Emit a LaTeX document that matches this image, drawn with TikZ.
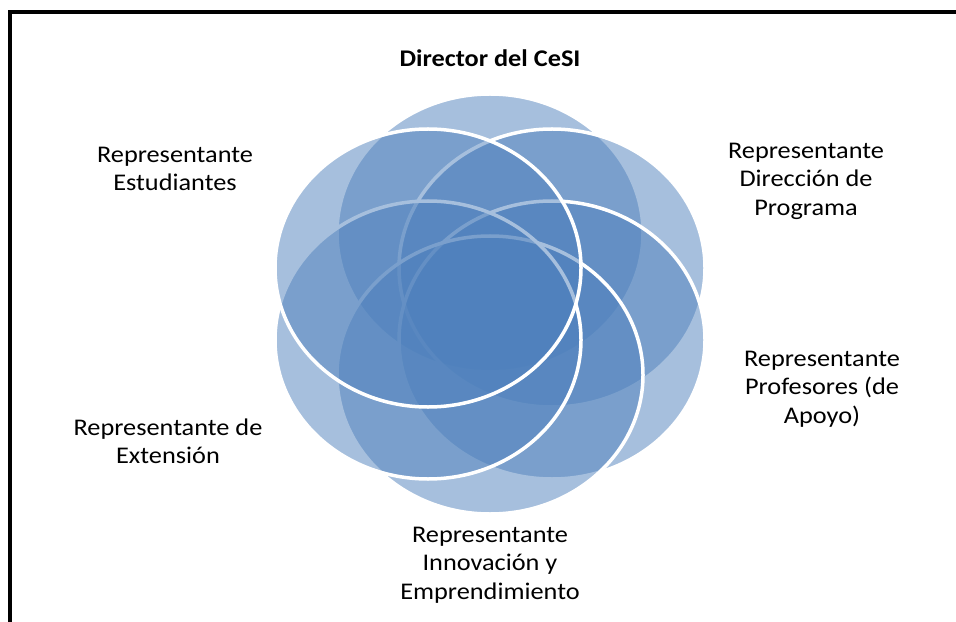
\documentclass[tikz,border=0pt]{standalone}
\usepackage{fontspec}
\setmainfont{Carlito}[FakeStretch=1.1]
\usetikzlibrary{shapes.geometric}
\definecolor{ofblue}{HTML}{4F81BD}
\begin{document}
\begin{tikzpicture}[x=1bp,y=-1bp,
  petal/.style={ellipse, inner sep=0pt, minimum width=306bp, minimum height=278bp,
    fill=ofblue, fill opacity=0.5, draw=white, draw opacity=1, line width=3.5bp},
  lbl/.style={align=center, font=\fontsize{24}{28.5}\selectfont, inner sep=0pt},
  frame/.style={line width=4bp, draw=black}]
\useasboundingbox (0,0) rectangle (956,622);
\fill[white] (0,0) rectangle (956,622);
\coordinate (fa) at (10,622);
\coordinate (fb) at (10,12);
\coordinate (fc) at (956,12);
\draw[frame] (fa) -- (fb) -- (fc);
% petals in drawing order (clockwise from top)
\node[petal] (p1) at (490,233) {};
\node[petal] (p2) at (552,268) {};
\node[petal] (p3) at (552,340) {};
\node[petal] (p4) at (490,375) {};
\node[petal] (p5) at (428,340) {};
\node[petal] (p6) at (428,268) {};
% labels
\node[lbl, font=\fontsize{24}{28.5}\selectfont\bfseries] (t1) at (490,58) {Director del CeSI};
\node[lbl] (t2) at (806,181) {Representante\\Dirección de\\Programa};
\node[lbl] (t3) at (822,389) {Representante\\Profesores (de\\Apoyo)};
\node[lbl] (t4) at (490,565) {Representante\\Innovación y\\Emprendimiento};
\node[lbl] (t5) at (168,441) {Representante de\\Extensión};
\node[lbl] (t6) at (175,169) {Representante\\Estudiantes};
\end{tikzpicture}
\end{document}
